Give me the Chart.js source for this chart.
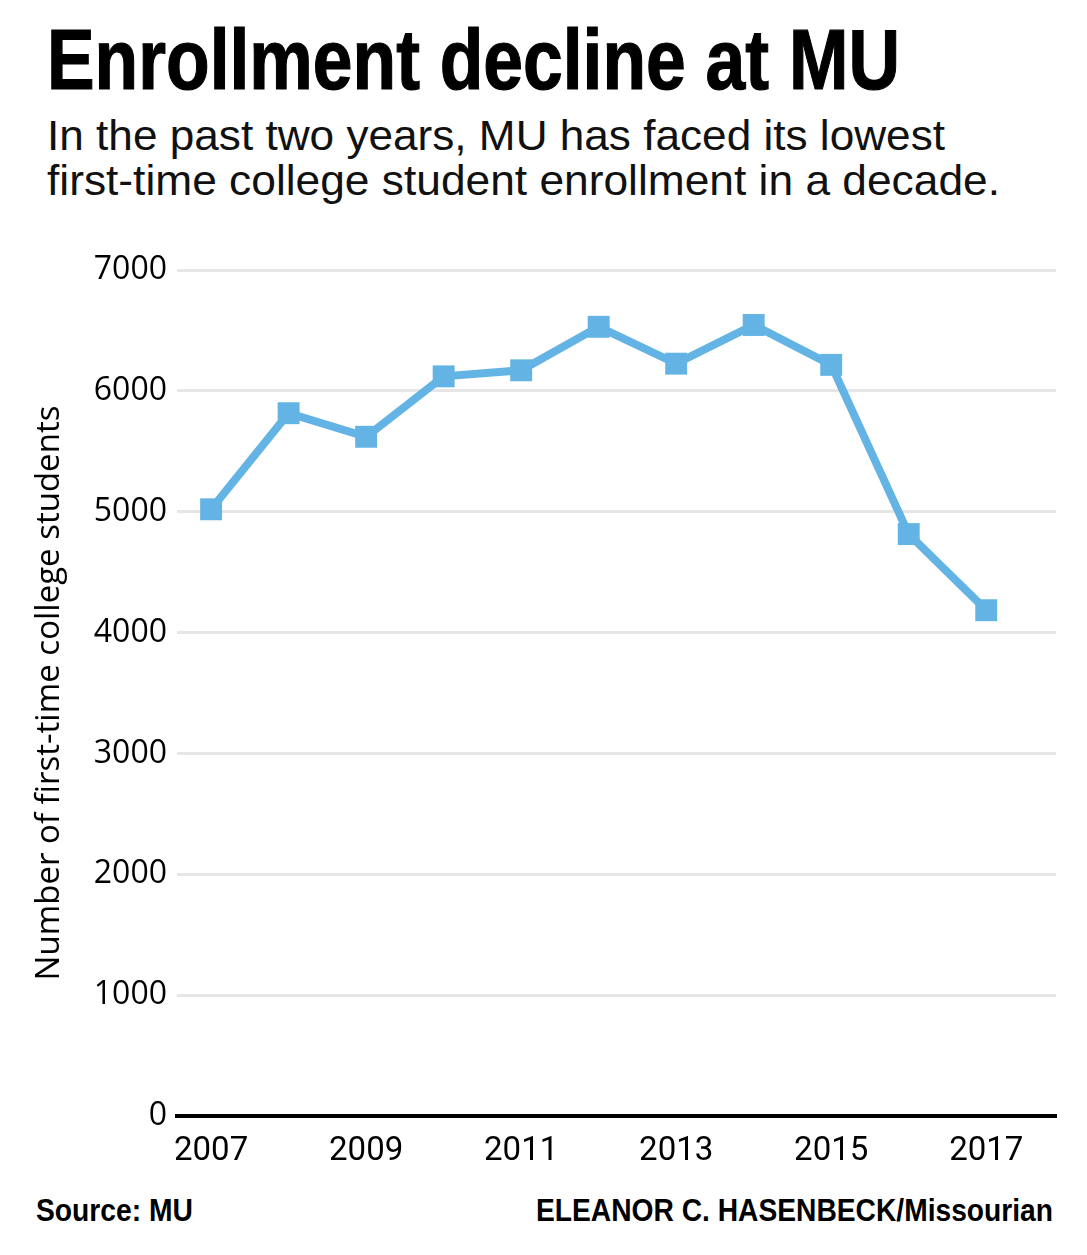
<!DOCTYPE html>
<html>
<head>
<meta charset="utf-8">
<script src="https://cdn.jsdelivr.net/npm/chart.js@4/dist/chart.umd.min.js"></script>
<style>
  html, body { margin: 0; padding: 0; background: #fff; }
  body { width: 1087px; height: 1255px; position: relative; overflow: hidden; }
  .txt {
    position: absolute; display: inline-block; white-space: nowrap;
    font-family: "Liberation Sans", Arial, sans-serif; color: #000;
    transform-origin: 0 0;
  }
  .title { left: 47px; top: 11px; font-weight: 700; font-size: 86px; line-height: 96px; -webkit-text-stroke: 1.2px #000; }
  .sub { left: 47px; font-size: 43px; line-height: 46px; color: #111; }
  .foot { top: 1193px; font-weight: 700; font-size: 31px; line-height: 36px; }
  #wrap { position: absolute; left: 0; top: 225px; width: 1087px; height: 955px; }
</style>
</head>
<body>
<div class="txt title" data-w="853">Enrollment decline at MU</div>
<div class="txt sub" style="top:112px" data-w="898">In the past two years, MU has faced its lowest</div>
<div class="txt sub" style="top:157px" data-w="953">first-time college student enrollment in a decade.</div>
<div id="wrap"><canvas id="enrollChart"></canvas></div>
<div class="txt foot" style="left:36px" data-w="157">Source: MU</div>
<div class="txt foot" style="left:536px" data-w="517">ELEANOR C. HASENBECK/Missourian</div>

<script>
// dados
const years = [2007, 2008, 2009, 2010, 2011, 2012, 2013, 2014, 2015, 2016, 2017];
const students = [5020, 5815, 5620, 6120, 6170, 6530, 6225, 6545, 6215, 4815, 4185];
const xTickYears = [2007, 2009, 2011, 2013, 2015, 2017];
const yTickValues = [0, 1000, 2000, 3000, 4000, 5000, 6000, 7000];

const lineColor = '#63b4e4';

// texto condensado: ajusta a largura de cada linha
function fitText() {
  document.querySelectorAll('[data-w]').forEach(el => {
    el.style.transform = 'none';
    const w = el.getBoundingClientRect().width;
    el.style.transform = 'scaleX(' + (Number(el.dataset.w) / w) + ')';
  });
}
fitText();
if (document.fonts) document.fonts.ready.then(fitText);

const ctx = document.getElementById('enrollChart').getContext('2d');

new Chart(ctx, {
  type: 'line',
  data: {
    datasets: [{
      label: 'First-time college students',
      data: years.map((y, i) => ({ x: y, y: students[i] })),
      borderColor: lineColor,
      backgroundColor: lineColor,
      borderWidth: 8,
      pointStyle: 'rect',
      pointRadius: 15.5,
      pointHoverRadius: 15.5,
      pointBorderWidth: 0,
      pointBackgroundColor: lineColor,
      tension: 0
    }]
  },
  options: {
    responsive: true,
    maintainAspectRatio: false,
    animation: false,
    layout: { padding: { top: 45, right: 31, bottom: 0, left: 0 } },
    plugins: {
      legend: { display: false },
      tooltip: { enabled: false }
    },
    scales: {
      x: {
        type: 'linear',
        min: 2006.56,
        max: 2017.9,
        afterBuildTicks: (scale) => { scale.ticks = xTickYears.map(v => ({ value: v })); },
        afterFit: (scale) => { scale.height = 64; },
        grid: { display: false, drawTicks: false },
        border: { display: true, color: '#000', width: 4 },
        ticks: {
          padding: 16,
          color: '#000',
          font: { family: 'Roboto', size: 33 },
          callback: (v) => String(v)
        }
      },
      y: {
        min: 0,
        max: 7000,
        afterBuildTicks: (scale) => { scale.ticks = yTickValues.map(v => ({ value: v })); },
        afterFit: (scale) => { scale.width = 177; },
        grid: {
          drawTicks: false,
          lineWidth: 3,
          color: (c) => (c.tick && c.tick.value === 0) ? 'rgba(0,0,0,0)' : '#e6e6e6'
        },
        border: { display: false },
        ticks: {
          padding: 10,
          color: '#000',
          font: { family: 'Open Sans', size: 32 },
          callback: (v) => String(v)
        },
        title: {
          display: true,
          text: 'Number of first-time college students',
          color: '#000',
          font: { family: 'Open Sans', size: 33 },
          padding: { top: 30, bottom: 0 }
        }
      }
    }
  }
});
</script>
</body>
</html>
